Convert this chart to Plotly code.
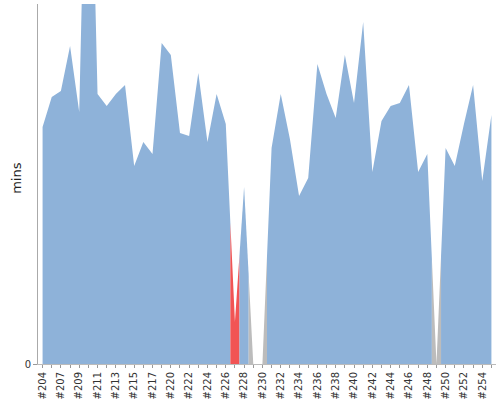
import plotly.graph_objects as go

# Build numbers (categories)
builds = [204, 205] + list(range(207, 218)) + [218] + list(range(220, 256))
# Build durations in minutes
durations = [7.9, 8.9, 9.1, 10.6, 8.4, 21.8, 9.0, 8.6, 9.0, 9.3,
             6.6, 7.4, 7.0, 10.7, 10.3, 7.7, 7.6, 9.7, 7.4, 9.0,
             8.0, 1.4, 5.9, 0.0, 0.0, 7.2, 9.0, 7.5, 5.6, 6.2,
             10.0, 9.0, 8.2, 10.3, 8.7, 11.4, 6.4, 8.1, 8.6, 8.7,
             9.3, 6.4, 7.0, 0.0, 7.2, 6.6, 8.0, 9.3, 6.1, 8.3]
# Build results
status = (["SUCCESS"] * 21 + ["FAILURE", "SUCCESS", "ABORTED", "ABORTED"]
          + ["SUCCESS"] * 18 + ["ABORTED"] + ["SUCCESS"] * 6)

colors = {"SUCCESS": "#8EB2D9", "FAILURE": "#F25454", "ABORTED": "#BCBCBC"}

labels = ["#%d" % b for b in builds]
n = len(builds)
xs = list(range(n))

# group consecutive builds of the same result into runs; each build owns the
# span between the half-way points to its neighbours (trapezoid renderer)
runs = []
start = 0
for i in range(1, n + 1):
    if i == n or status[i] != status[start]:
        runs.append((start, i - 1))
        start = i

fig = go.Figure()
for a, b in runs:
    px, py = [], []
    if a > 0:
        x0 = (xs[a - 1] + xs[a]) / 2
        px += [x0, x0]
        py += [0, (durations[a - 1] + durations[a]) / 2]
    else:
        px += [xs[a]]
        py += [0]
    for i in range(a, b + 1):
        px.append(xs[i])
        py.append(durations[i])
    if b < n - 1:
        x1 = (xs[b] + xs[b + 1]) / 2
        px += [x1, x1]
        py += [(durations[b] + durations[b + 1]) / 2, 0]
    else:
        px.append(xs[b])
        py.append(0)
    fig.add_trace(go.Scatter(
        x=px, y=py, mode="lines", fill="toself",
        fillcolor=colors[status[a]], line=dict(width=0, color=colors[status[a]]),
        hoverinfo="skip", showlegend=False))

font_family = "DejaVu Sans"
fig.update_layout(
    width=500, height=400,
    margin=dict(l=38, r=4, t=4, b=36),
    paper_bgcolor="white", plot_bgcolor="white",
    font=dict(family=font_family, size=10, color="#444444"),
    showlegend=False,
    annotations=[dict(
        text="mins", textangle=-90, showarrow=False,
        xref="paper", yref="paper", x=-0.046, y=0.517,
        xanchor="center", yanchor="middle",
        font=dict(family=font_family, size=13, color="#222222"),
    )],
)
fig.update_xaxes(
    range=[-0.5, n - 0.5], automargin=False,
    tickmode="array", tickvals=xs,
    ticktext=[labels[i] if i % 2 == 0 else "" for i in xs],
    tickangle=-90, ticks="outside", ticklen=3, tickcolor="#999999",
    showline=True, linecolor="#BBBBBB", linewidth=1,
    showgrid=False, zeroline=False,
    tickfont=dict(family=font_family, size=10, color="#333333"),
)
fig.update_yaxes(
    range=[0, 12.0], automargin=False,
    tickmode="array", tickvals=[0], ticktext=["0"],
    ticks="outside", ticklen=4, tickcolor="#999999",
    showline=True, linecolor="#AAAAAA", linewidth=1,
    showgrid=False, zeroline=False,
    tickfont=dict(family=font_family, size=10, color="#333333"),
)

fig.write_html(
    "out.html",
    config={"displayModeBar": False},
    post_script="document.body.style.margin='0';document.body.style.overflow='hidden';",
)
